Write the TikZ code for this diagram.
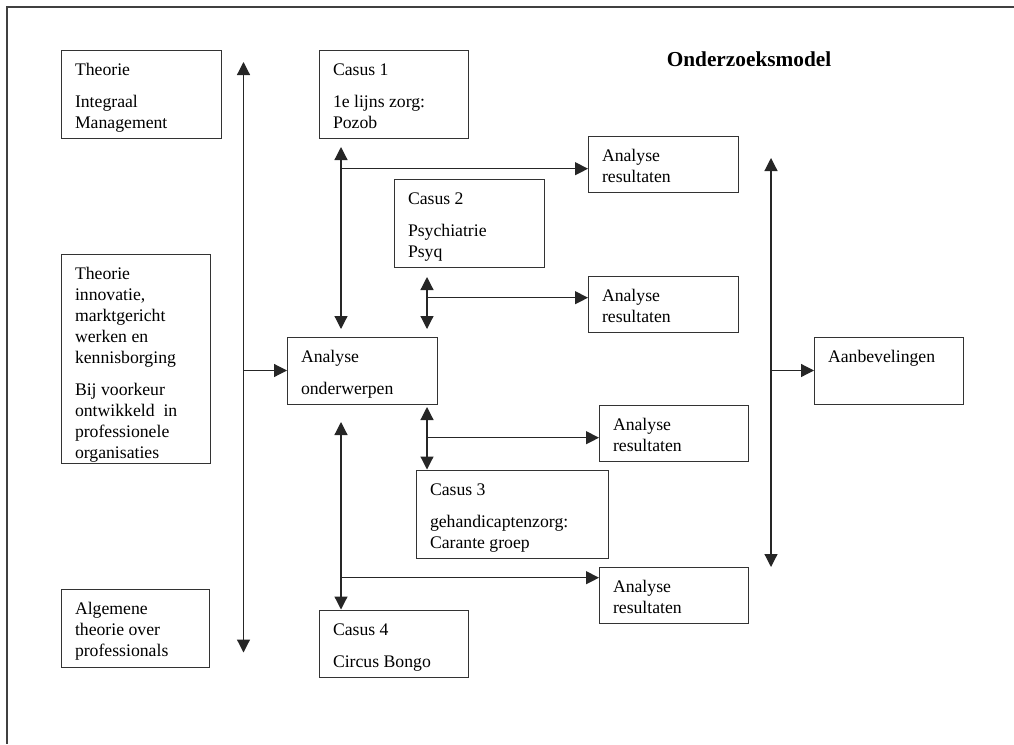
\documentclass[tikz,border=0pt]{standalone}
\usepackage{fontspec}
\setmainfont{Liberation Serif}
\usetikzlibrary{arrows.meta}

\tikzset{
  vak/.style={draw=black!80, line width=1pt, anchor=north west,
    inner xsep=14pt, inner ysep=0pt, outer sep=0pt,
    font=\fontsize{17.7}{21}\selectfont},
  pijl/.style={line width=1.2pt, draw=black!85,
    -{Triangle[length=13pt,width=13pt]}},
  tweepijl/.style={pijl,
    {Triangle[length=13pt,width=13pt]}-{Triangle[length=13pt,width=13pt]}},
}
% box text: width, height, lines
\newcommand{\vakje}[3]{\parbox[c][#2pt][t]{#1pt}{\raggedright\rule{0pt}{25pt}#3}}

\begin{document}
\begin{tikzpicture}[x=1pt, y=-1pt]
\useasboundingbox (0,0) rectangle (1014,744);
%\draw (0,0) grid (1014,744);
\draw[line width=1.3pt, draw=black!75] (1014,7) -- (7,7) -- (7,744);

\node[font=\fontsize{21.3}{24}\selectfont\bfseries, anchor=base] (titel) at (749,66) {Onderzoeksmodel};

% theorie
\node[vak] (thIM) at (61,50) {\vakje{132}{88}{Theorie\\[11pt]Integraal\\Management}};
\node[vak] (thInn) at (61,254) {\vakje{121}{209}{Theorie\\innovatie,\\marktgericht\\werken en\\kennisborging\\[11pt]Bij voorkeur\\ontwikkeld~ in\\professionele\\organisaties}};
\node[vak] (alg) at (61,589) {\vakje{120}{78}{Algemene\\theorie over\\professionals}};

% analyse en casussen
\node[vak] (onder) at (287,337) {\vakje{122}{67}{Analyse\\[11pt]onderwerpen}};
\node[vak] (cas1) at (319,50) {\vakje{121}{88}{Casus 1\\[11pt]1e lijns zorg:\\Pozob}};
\node[vak] (cas2) at (394,179) {\vakje{122}{88}{Casus 2\\[11pt]Psychiatrie\\Psyq}};
\node[vak] (cas3) at (416,470) {\vakje{164}{88}{Casus 3\\[11pt]gehandicaptenzorg:\\Carante groep}};
\node[vak] (cas4) at (319,610) {\vakje{121}{67}{Casus 4\\[11pt]Circus Bongo}};

\node[vak] (res1) at (588,136) {\vakje{122}{56}{Analyse\\resultaten}};
\node[vak] (res2) at (588,276) {\vakje{122}{56}{Analyse\\resultaten}};
\node[vak] (res3) at (599,405) {\vakje{121}{56}{Analyse\\resultaten}};
\node[vak] (res4) at (599,567) {\vakje{121}{56}{Analyse\\resultaten}};

\node[vak] (aanb) at (814,337) {\vakje{121}{67}{Aanbevelingen}};

% verbindingen
\coordinate (lt) at (243.5,62);
\coordinate (lb) at (243.5,652.5);
\draw[tweepijl] (lt) -- (lb);
\draw[pijl] (lt |- onder.west) -- (onder.west);

\coordinate (k1a) at (341,147);
\coordinate (k1b) at (341,329);
\coordinate (t1) at (341,168.7);
\draw[tweepijl] (k1a) -- (k1b);
\draw[pijl] (t1) -- (t1 -| res1.west);

\coordinate (k2a) at (427,277);
\coordinate (k2b) at (427,329);
\coordinate (t2) at (427,297.7);
\draw[tweepijl] (k2a) -- (k2b);
\draw[pijl] (t2) -- (t2 -| res2.west);

\coordinate (k3a) at (427,407);
\coordinate (k3b) at (427,469.5);
\coordinate (t3) at (427,437.7);
\draw[tweepijl] (k3a) -- (k3b);
\draw[pijl] (t3) -- (t3 -| res3.west);

\coordinate (k4a) at (341,422);
\coordinate (k4b) at (341,609.5);
\coordinate (t4) at (341,577.7);
\draw[tweepijl] (k4a) -- (k4b);
\draw[pijl] (t4) -- (t4 -| res4.west);

\coordinate (rt) at (771,158);
\coordinate (rb) at (771,567);
\draw[tweepijl] (rt) -- (rb);
\draw[pijl] (rt |- aanb.west) -- (aanb.west);
\end{tikzpicture}
\end{document}
